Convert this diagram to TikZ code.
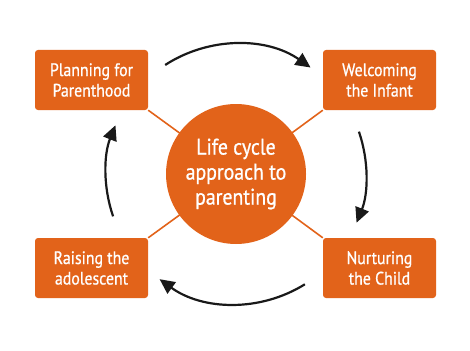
\documentclass[tikz,border=0pt]{standalone}
\usepackage{fontspec}
\setmainfont[FakeStretch=0.88,FakeBold=0.8]{PT Sans}
\usetikzlibrary{arrows.meta}
\definecolor{lcorange}{HTML}{E2631A}
\tikzset{
  stagebox/.style={fill=lcorange, rounded corners=3pt, minimum width=113pt, minimum height=60pt,
    text=white, align=center, font=\fontsize{18}{20.5}\selectfont, inner sep=0pt},
  hub/.style={circle, fill=lcorange, minimum size=140pt, inner sep=0pt, text=white, align=center,
    font=\fontsize{22.5}{25}\selectfont},
  spoke/.style={draw=lcorange, line width=1.6pt},
  cyclearrow/.style={draw=black!90, line width=2.2pt, -{Triangle[length=15pt,width=14pt]}}
}
\begin{document}
\begin{tikzpicture}[x=1pt,y=1pt]
\useasboundingbox (0,0) rectangle (470,-350);
\coordinate (ctr) at (236,-174);
\node[stagebox] (plan) at (91.5,-80) {Planning for\\Parenthood};
\node[stagebox] (welc) at (379.5,-80) {Welcoming\\the Infant};
\node[stagebox] (rais) at (91.5,-268) {Raising the\\adolescent};
\node[stagebox] (nurt) at (379.5,-268) {Nurturing\\the Child};
\draw[spoke] (ctr) -- (plan.south east);
\draw[spoke] (ctr) -- (welc.south west);
\draw[spoke] (ctr) -- (rais.north east);
\draw[spoke] (ctr) -- (nurt.north west);
\node[hub] (hubnode) at (ctr) {Life cycle\\approach to\\parenting};
\coordinate (a1) at ([shift={(123:130)}]ctr);
\coordinate (a2) at ([shift={(19:130)}]ctr);
\coordinate (a3) at ([shift={(-58:130)}]ctr);
\coordinate (a4) at ([shift={(199:130)}]ctr);
\draw[cyclearrow] (a1) arc[start angle=123, end angle=55, radius=130];
\draw[cyclearrow] (a2) arc[start angle=19, end angle=-22, radius=130];
\draw[cyclearrow] (a3) arc[start angle=-58, end angle=-126, radius=130];
\draw[cyclearrow] (a4) arc[start angle=199, end angle=158, radius=130];
\end{tikzpicture}
\end{document}
